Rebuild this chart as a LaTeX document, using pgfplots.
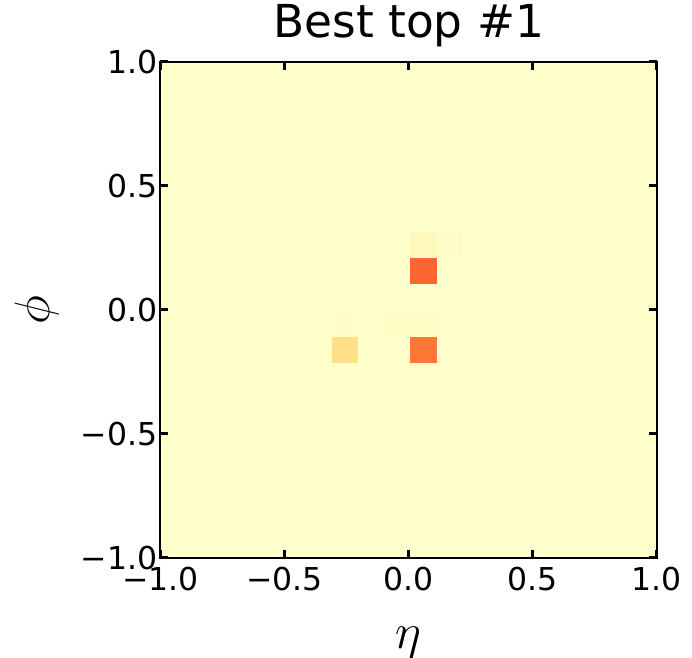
\documentclass[border=0pt]{standalone}
\usepackage{fontspec}
\setmainfont{DejaVu Sans}
\usepackage{pgfplots}
\pgfplotsset{compat=1.18}

% YlOrRd colour map, nine equally spaced stops
\pgfplotsset{
  colormap={ylorrd}{
    rgb255=(255,255,204) rgb255=(255,237,160) rgb255=(254,217,118)
    rgb255=(254,178,76)  rgb255=(253,141,60)  rgb255=(252,78,42)
    rgb255=(227,26,28)   rgb255=(189,0,38)    rgb255=(128,0,38)
  }
}

\begin{document}
\begin{tikzpicture}
\useasboundingbox (-80.25pt,-50pt) rectangle (265.75pt,279pt);
\begin{axis}[
  scale only axis,
  width=248.25pt, height=248pt,
  xmin=-1, xmax=1, ymin=-1, ymax=1,
  colormap name=ylorrd,
  point meta min=0, point meta max=1,
  axis on top,
  axis line style={line width=1pt, black},
  xtick={-1,-0.5,0,0.5,1},
  ytick={-1,-0.5,0,0.5,1},
  xticklabels={−1.0,−0.5,0.0,0.5,1.0},
  yticklabels={−1.0,−0.5,0.0,0.5,1.0},
  tick align=inside,
  major tick length=4pt,
  minor tick num=0,
  every tick/.style={black, line width=1.5pt},
  tick label style={font=\fontsize{15.75}{18}\selectfont},
  xticklabel style={anchor=base, yshift=-16.5pt},
  yticklabel style={anchor=east, xshift=2pt},
  title={Best top \#1},
  title style={at={(axis description cs:0.5,1.0242)}, anchor=base,
    font=\fontsize{22.7}{26}\selectfont, inner sep=0pt},
  xlabel={$\eta$},
  ylabel={$\phi$},
  xlabel style={at={(axis description cs:0.5,-0.1825)}, anchor=base,
    font=\fontsize{25}{28}\selectfont, inner sep=0pt},
  ylabel style={at={(axis description cs:-0.2226,0.5)}, anchor=base, rotate=0,
    font=\fontsize{25}{28}\selectfont, inner sep=0pt},
]
% calorimeter cells: corners (x, y) and deposited intensity c
\addplot[patch, patch type=rectangle, shader=flat, point meta=explicit]
  table[meta=c] {
x       y       c
-1      -1      0
1       -1      0
1       1       0
-1      1       0
0.006   0.106   0.577
0.112   0.106   0.577
0.112   0.212   0.577
0.006   0.212   0.577
0.006   -0.212  0.544
0.112   -0.212  0.544
0.112   -0.106  0.544
0.006   -0.106  0.544
-0.312  -0.212  0.20
-0.206  -0.212  0.20
-0.206  -0.106  0.20
-0.312  -0.106  0.20
0.006   0.212   0.04
0.112   0.212   0.04
0.112   0.318   0.04
0.006   0.318   0.04
0.112   0.212   0.015
0.218   0.212   0.015
0.218   0.318   0.015
0.112   0.318   0.015
-0.524  0.000   0.012
-0.418  0.000   0.012
-0.418  0.106   0.012
-0.524  0.106   0.012
-0.312  -0.106  0.015
-0.206  -0.106  0.015
-0.206  0.000   0.015
-0.312  0.000   0.015
-0.100  -0.106  0.02
0.006   -0.106  0.02
0.006   0.000   0.02
-0.100  0.000   0.02
0.006   -0.106  0.02
0.112   -0.106  0.02
0.112   0.000   0.02
0.006   0.000   0.02
-0.418  -0.212  0.012
-0.312  -0.212  0.012
-0.312  -0.106  0.012
-0.418  -0.106  0.012
};
\end{axis}
\end{tikzpicture}
\end{document}
